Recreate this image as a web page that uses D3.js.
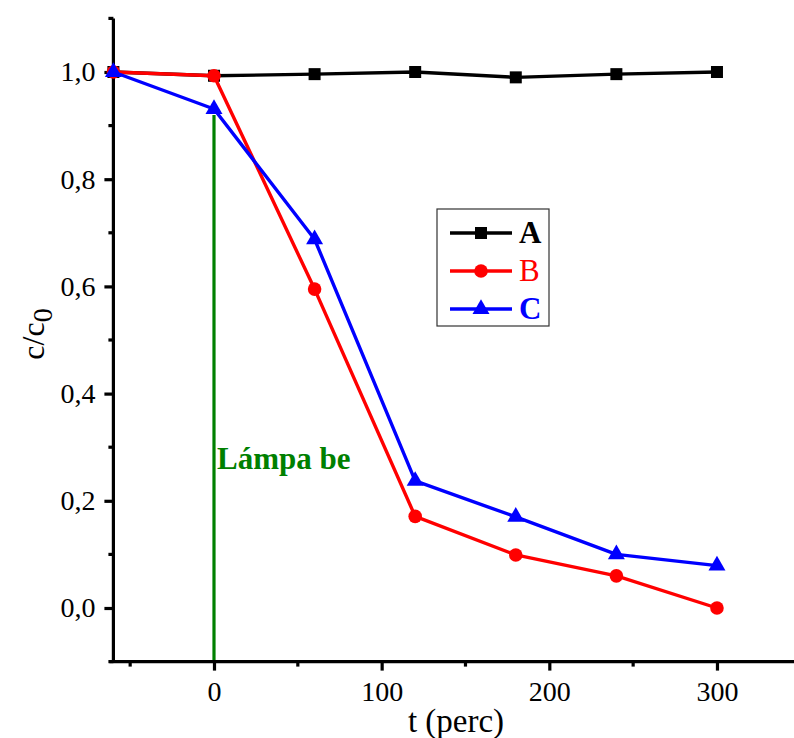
<!DOCTYPE html>
<html>
<head>
<meta charset="utf-8">
<script src="https://cdn.jsdelivr.net/npm/d3@7"></script>
<style>
  body { margin: 0; background: #fff; }
  svg text { font-family: "Liberation Serif", "Times New Roman", Times, serif; }
</style>
</head>
<body>
<svg id="chart" width="794" height="738"></svg>
<script>
const times = [-60, 0, 60, 120, 180, 240, 300];
const seriesA = [1.0, 0.993, 0.996, 1.0, 0.99, 0.996, 1.0];
const seriesB = [1.0, 0.993, 0.595, 0.171, 0.099, 0.06, 0.0];
const seriesC = [1.0, 0.931, 0.688, 0.237, 0.17, 0.10, 0.079];
const seriesNames = ["A", "B", "C"];
const seriesColors = ["#000000", "#ff0000", "#0000ff"];
const xTickValues = [0, 100, 200, 300];
const xMinorTicks = [-50, 50, 150, 250, 350];
const yTickValues = [0.0, 0.2, 0.4, 0.6, 0.8, 1.0];
const yMinorTicks = [-0.1, 0.1, 0.3, 0.5, 0.7, 0.9, 1.1];
const lampTime = 0;
const lampTop = 0.92;
const lampLabel = "Lámpa be";
const xTitle = "t (perc)";

const svg = d3.select("#chart");
const x = d3.scaleLinear().domain([-60, 350]).range([113.4, 800.8]);
const y = d3.scaleLinear().domain([-0.1, 1.1]).range([661.6, 18.4]);
const fmt = d => d3.format(".1f")(d).replace(".", ",");

// lamp line
svg.append("line")
  .attr("x1", x(lampTime)).attr("x2", x(lampTime))
  .attr("y1", y(lampTop)).attr("y2", y(-0.1))
  .attr("stroke", "#008000").attr("stroke-width", 3.2);
svg.append("text")
  .attr("x", x(lampTime) + 3).attr("y", 469)
  .attr("fill", "#008000").attr("font-weight", "bold").attr("font-size", 31)
  .text(lampLabel);

// axes
const xAxis = svg.append("g").attr("transform", `translate(0,${y(-0.1)})`)
  .call(d3.axisBottom(x).tickValues(xTickValues).tickSize(9).tickPadding(11).tickFormat(d3.format("d")));
xAxis.append("g").selectAll("line").data(xMinorTicks).join("line")
  .attr("x1", d => x(d)).attr("x2", d => x(d)).attr("y1", 0).attr("y2", 5)
  .attr("stroke", "#000").attr("stroke-width", 3.2);
const yAxis = svg.append("g").attr("transform", `translate(${x(-60)},0)`)
  .call(d3.axisLeft(y).tickValues(yTickValues).tickSize(9).tickPadding(9).tickFormat(fmt));
yAxis.append("g").selectAll("line").data(yMinorTicks).join("line")
  .attr("y1", d => y(d)).attr("y2", d => y(d)).attr("x1", 0).attr("x2", -5)
  .attr("stroke", "#000").attr("stroke-width", 3.2);
[xAxis, yAxis].forEach(g => {
  g.attr("font-family", null).attr("font-size", null);
  g.selectAll(".tick line").attr("stroke-width", 3.2);
  g.selectAll(".tick text").attr("font-size", 28).attr("fill", "#000");
});
xAxis.select(".domain").remove();
yAxis.select(".domain").remove();
svg.append("line").attr("x1", x(-60) - 4).attr("x2", 800).attr("y1", y(-0.1)).attr("y2", y(-0.1))
  .attr("stroke", "#000").attr("stroke-width", 3.2);
svg.append("line").attr("x1", x(-60)).attr("x2", x(-60)).attr("y1", y(1.1)).attr("y2", y(-0.1) + 1.5)
  .attr("stroke", "#000").attr("stroke-width", 3.2);

// titles
svg.append("text").attr("x", 456).attr("y", 732).attr("text-anchor", "middle")
  .attr("font-size", 33).text(xTitle);
const yt = svg.append("text").attr("transform", "translate(44,334) rotate(-90)")
  .attr("text-anchor", "middle").attr("font-size", 32);
yt.append("tspan").text("c/c");
yt.append("tspan").attr("dy", 8).attr("font-size", 28).text("0");

// series
const data = [seriesA, seriesB, seriesC];
const line = d3.line().x((d, i) => x(times[i])).y(d => y(d));
const triangle = d3.symbol().type(d3.symbolTriangle).size(125);
function marker(g, k, cx, cy) {
  if (k === 0) g.append("rect").attr("x", cx - 6).attr("y", cy - 6).attr("width", 12).attr("height", 12).attr("fill", seriesColors[k]);
  else if (k === 1) g.append("circle").attr("cx", cx).attr("cy", cy).attr("r", 6.8).attr("fill", seriesColors[k]);
  else g.append("path").attr("d", triangle).attr("transform", `translate(${cx},${cy})`).attr("fill", seriesColors[k]);
}
data.forEach((vals, k) => {
  const g = svg.append("g");
  g.append("path").datum(vals).attr("d", line).attr("fill", "none")
    .attr("stroke", seriesColors[k]).attr("stroke-width", 3.4).attr("stroke-linejoin", "round");
  vals.forEach((v, i) => marker(g, k, x(times[i]), y(v)));
});

// legend
const lg = svg.append("g");
lg.append("rect").attr("x", 437).attr("y", 209).attr("width", 112).attr("height", 117)
  .attr("fill", "#fff").attr("stroke", "#333").attr("stroke-width", 1.2);
const ly = [233, 271, 309];
seriesNames.forEach((name, k) => {
  lg.append("line").attr("x1", 450).attr("x2", 512).attr("y1", ly[k]).attr("y2", ly[k])
    .attr("stroke", seriesColors[k]).attr("stroke-width", 3.4);
  marker(lg, k, 481, ly[k]);
  lg.append("text").attr("x", 519).attr("y", ly[k] + 10)
    .attr("font-size", 31).attr("font-weight", k === 1 ? "normal" : "bold")
    .attr("fill", seriesColors[k]).text(name);
});
</script>
</body>
</html>
